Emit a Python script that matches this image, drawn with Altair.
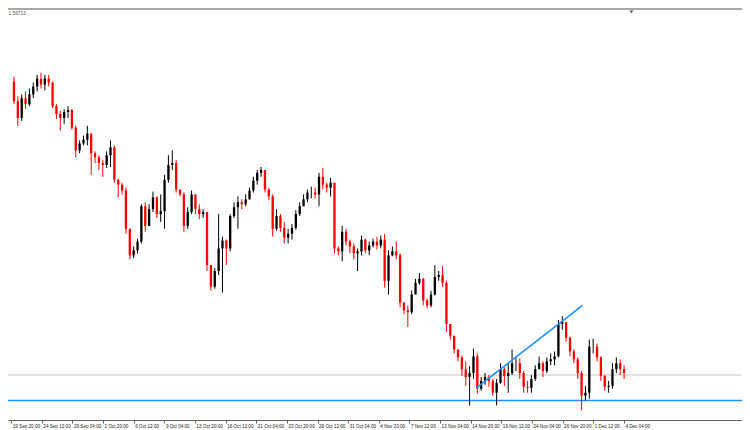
import altair as alt
import pandas as pd
import numpy as np

# ---- data (4H candles, one entry per ~2 bars) ----
first_open = 1.5455
closes = [
    1.5395, 1.5344, 1.5404, 1.5386, 1.5416, 1.5440, 1.5464, 1.5446, 1.5464, 1.5452,
    1.5380, 1.5356, 1.5344, 1.5362, 1.5368, 1.5314, 1.5245, 1.5266, 1.5278, 1.5296,
    1.5236, 1.5224, 1.5206, 1.5200, 1.5230, 1.5254, 1.5155, 1.5140, 1.5122, 1.5005,
    1.4924, 1.4939, 1.4966, 1.5074, 1.5014, 1.5065, 1.5101, 1.5050, 1.5059, 1.5155,
    1.5200, 1.5206, 1.5125, 1.5110, 1.5014, 1.5056, 1.5110, 1.5065, 1.5050, 1.5056,
    1.4894, 1.4828, 1.4876, 1.4945, 1.4969, 1.4945, 1.5044, 1.5071, 1.5086, 1.5080,
    1.5095, 1.5122, 1.5152, 1.5176, 1.5185, 1.5125, 1.5104, 1.5005, 1.5044, 1.5008,
    1.4978, 1.4990, 1.5008, 1.5050, 1.5074, 1.5095, 1.5116, 1.5116, 1.5110, 1.5164,
    1.5140, 1.5131, 1.5146, 1.4945, 1.4936, 1.4996, 1.4966, 1.4951, 1.4930, 1.4936,
    1.4972, 1.4939, 1.4954, 1.4966, 1.4954, 1.4972, 1.4846, 1.4924, 1.4936, 1.4924,
    1.4780, 1.4756, 1.4750, 1.4804, 1.4840, 1.4852, 1.4786, 1.4771, 1.4804, 1.4858,
    1.4864, 1.4840, 1.4714, 1.4678, 1.4636, 1.4612, 1.4576, 1.4552, 1.4564, 1.4615,
    1.4516, 1.4540, 1.4552, 1.4540, 1.4504, 1.4534, 1.4576, 1.4555, 1.4564, 1.4594,
    1.4594, 1.4564, 1.4522, 1.4519, 1.4546, 1.4576, 1.4594, 1.4570, 1.4600, 1.4606,
    1.4615, 1.4714, 1.4720, 1.4672, 1.4630, 1.4606, 1.4564, 1.4495, 1.4504, 1.4645,
    1.4645, 1.4612, 1.4555, 1.4522, 1.4525, 1.4576, 1.4594, 1.4576, 1.4564,
]
highs = [
    1.5470, 1.5410, 1.5416, 1.5425, 1.5434, 1.5452, 1.5476, 1.5482, 1.5476, 1.5476,
    1.5455, 1.5386, 1.5365, 1.5371, 1.5380, 1.5371, 1.5320, 1.5275, 1.5290, 1.5320,
    1.5296, 1.5242, 1.5230, 1.5215, 1.5242, 1.5275, 1.5260, 1.5158, 1.5146, 1.5131,
    1.5005, 1.4951, 1.4975, 1.5080, 1.5086, 1.5080, 1.5119, 1.5104, 1.5110, 1.5170,
    1.5230, 1.5245, 1.5215, 1.5125, 1.5116, 1.5071, 1.5122, 1.5110, 1.5080, 1.5065,
    1.5056, 1.4894, 1.4885, 1.5050, 1.4981, 1.4972, 1.5050, 1.5086, 1.5104, 1.5095,
    1.5110, 1.5131, 1.5164, 1.5185, 1.5194, 1.5185, 1.5131, 1.5110, 1.5065, 1.5050,
    1.5026, 1.5005, 1.5020, 1.5062, 1.5086, 1.5110, 1.5125, 1.5134, 1.5131, 1.5176,
    1.5191, 1.5146, 1.5161, 1.5140, 1.4951, 1.5014, 1.5005, 1.4972, 1.4960, 1.4945,
    1.4984, 1.4975, 1.4966, 1.4975, 1.4981, 1.4984, 1.4990, 1.4939, 1.4951, 1.4966,
    1.4930, 1.4780, 1.4771, 1.4816, 1.4852, 1.4870, 1.4855, 1.4792, 1.4816, 1.4894,
    1.4876, 1.4891, 1.4846, 1.4702, 1.4678, 1.4636, 1.4618, 1.4600, 1.4585, 1.4639,
    1.4624, 1.4552, 1.4564, 1.4558, 1.4546, 1.4546, 1.4594, 1.4582, 1.4594, 1.4636,
    1.4612, 1.4609, 1.4570, 1.4540, 1.4558, 1.4588, 1.4615, 1.4600, 1.4612, 1.4624,
    1.4630, 1.4726, 1.4738, 1.4720, 1.4675, 1.4636, 1.4612, 1.4570, 1.4525, 1.4666,
    1.4669, 1.4654, 1.4615, 1.4558, 1.4540, 1.4594, 1.4612, 1.4606, 1.4588,
]
lows = [
    1.5386, 1.5320, 1.5335, 1.5371, 1.5380, 1.5404, 1.5425, 1.5434, 1.5428, 1.5440,
    1.5374, 1.5341, 1.5305, 1.5326, 1.5344, 1.5308, 1.5224, 1.5236, 1.5260, 1.5260,
    1.5170, 1.5206, 1.5185, 1.5164, 1.5191, 1.5194, 1.5146, 1.5101, 1.5110, 1.4990,
    1.4912, 1.4915, 1.4930, 1.4960, 1.4996, 1.5014, 1.5056, 1.5038, 1.5026, 1.5005,
    1.5146, 1.5185, 1.5116, 1.5104, 1.4996, 1.5005, 1.5050, 1.5050, 1.5035, 1.5038,
    1.4876, 1.4816, 1.4822, 1.4864, 1.4810, 1.4894, 1.4936, 1.5038, 1.5005, 1.5065,
    1.5074, 1.5095, 1.5116, 1.5140, 1.5164, 1.5116, 1.5092, 1.4981, 1.4999, 1.4996,
    1.4960, 1.4960, 1.4972, 1.5002, 1.5044, 1.5074, 1.5086, 1.5098, 1.5098, 1.5074,
    1.5125, 1.5116, 1.5104, 1.4930, 1.4924, 1.4906, 1.4954, 1.4930, 1.4912, 1.4876,
    1.4924, 1.4930, 1.4924, 1.4948, 1.4942, 1.4945, 1.4825, 1.4804, 1.4921, 1.4912,
    1.4765, 1.4744, 1.4705, 1.4744, 1.4810, 1.4834, 1.4771, 1.4762, 1.4765, 1.4801,
    1.4846, 1.4828, 1.4690, 1.4666, 1.4624, 1.4600, 1.4555, 1.4525, 1.4465, 1.4546,
    1.4501, 1.4510, 1.4528, 1.4522, 1.4495, 1.4465, 1.4531, 1.4525, 1.4504, 1.4558,
    1.4570, 1.4546, 1.4504, 1.4504, 1.4504, 1.4540, 1.4576, 1.4552, 1.4564, 1.4588,
    1.4588, 1.4612, 1.4696, 1.4660, 1.4615, 1.4594, 1.4546, 1.4450, 1.4480, 1.4486,
    1.4624, 1.4600, 1.4540, 1.4510, 1.4504, 1.4516, 1.4564, 1.4558, 1.4546,
]
axis_labels = [
    "19 Sep 20:00", "24 Sep 12:00", "29 Sep 04:00", "1 Oct 20:00", "6 Oct 12:00",
    "9 Oct 04:00", "13 Oct 20:00", "16 Oct 12:00", "21 Oct 04:00", "23 Oct 20:00",
    "28 Oct 12:00", "31 Oct 04:00", "4 Nov 20:00", "7 Nov 12:00", "12 Nov 04:00",
    "14 Nov 20:00", "19 Nov 12:00", "24 Nov 04:00", "26 Nov 20:00", "1 Dec 12:00",
    "4 Dec 04:00",
]
bid_price = 1.4558
support_price = 1.4480
trend_bar = [119.75, 147.25]
trend_price = [1.4519, 1.4771]
top_label = "1.56713"

# ---- build tables ----
opens = [first_open] + closes[:-1]
df = pd.DataFrame({
    "bar": list(range(len(closes))),
    "open": opens, "close": closes, "high": highs, "low": lows,
})
df["dir"] = np.where(df["close"] >= df["open"], "up", "down")
trend_df = pd.DataFrame({"bar": trend_bar, "price": trend_price})
slots_df = pd.DataFrame({"slot": list(range(len(axis_labels)))})

W, H = 734, 422
xscale = alt.Scale(domain=[-0.25, 187.25], nice=False, zero=False)
yscale = alt.Scale(domain=[1.4390, 1.5680], nice=False, zero=False)
cscale = alt.Scale(domain=["up", "down"], range=["#000000", "#FF0000"])

base = alt.Chart(df)
wick = base.mark_rule(strokeWidth=1).encode(
    x=alt.X("bar:Q", scale=xscale, axis=None),
    y=alt.Y("low:Q", scale=yscale, axis=None),
    y2="high:Q",
    color=alt.Color("dir:N", scale=cscale, legend=None),
)
body = base.mark_bar(size=2.3).encode(
    x=alt.X("bar:Q", scale=xscale, axis=None),
    y=alt.Y("open:Q", scale=yscale, axis=None),
    y2="close:Q",
    color=alt.Color("dir:N", scale=cscale, legend=None),
)

hl_gray = alt.Chart(pd.DataFrame({"price": [bid_price]})).mark_rule(
    color="#C8C8C8", strokeWidth=1
).encode(y=alt.Y("price:Q", scale=yscale, axis=None))
hl_blue = alt.Chart(pd.DataFrame({"price": [support_price]})).mark_rule(
    color="#1E90FF", strokeWidth=1.5
).encode(y=alt.Y("price:Q", scale=yscale, axis=None))

trend = alt.Chart(trend_df).mark_line(color="#1E90FF", strokeWidth=1.6).encode(
    x=alt.X("bar:Q", scale=xscale, axis=None),
    y=alt.Y("price:Q", scale=yscale, axis=None),
)

price_layers = alt.layer(hl_gray, hl_blue, wick, body, trend)

label_expr = "[" + ",".join("'%s'" % s for s in axis_labels) + "][datum.value]"
axis_layer = alt.Chart(slots_df).mark_point(opacity=0).encode(
    x=alt.X(
        "slot:Q",
        scale=alt.Scale(domain=[-0.105, 23.856], nice=False, zero=False),
        axis=alt.Axis(
            orient="bottom", offset=-10, values=list(range(len(axis_labels))),
            labelExpr=label_expr, title=None, grid=False,
            domainColor="#666666", domainWidth=1,
            tickColor="#666666", tickSize=3, tickWidth=1,
            labelFont="Liberation Sans", labelFontSize=4.6, labelColor="#222222",
            labelAlign="left", labelBaseline="top", labelPadding=0, labelOffset=1,
            labelOverlap=False, labelBound=False, labelFlush=False,
        ),
    ),
    y=alt.value(0),
)

border = alt.Chart(slots_df).mark_rule(color="#A8A8A8", strokeWidth=2).encode(
    x=alt.value(0), x2=alt.value(W), y=alt.value(1)
)
tri = alt.Chart(slots_df.head(1)).mark_point(
    shape="triangle-down", filled=True, size=14, color="#4F5F70", opacity=1
).encode(x=alt.value(623.5), y=alt.value(4))
txt = alt.Chart(slots_df.head(1)).mark_text(
    text=top_label, align="left", baseline="middle", fontSize=4.8,
    font="Liberation Sans", color="#555555"
).encode(x=alt.value(0.5), y=alt.value(6))

chart = alt.layer(price_layers, axis_layer, border, tri, txt).resolve_scale(
    x="independent"
).properties(
    width=W, height=H, padding=0,
    autosize=alt.AutoSizeParams(type="none"),
    background="white",
).configure_view(strokeWidth=0)

chart.save("out.html", embed_options={"renderer": "svg", "actions": False})
